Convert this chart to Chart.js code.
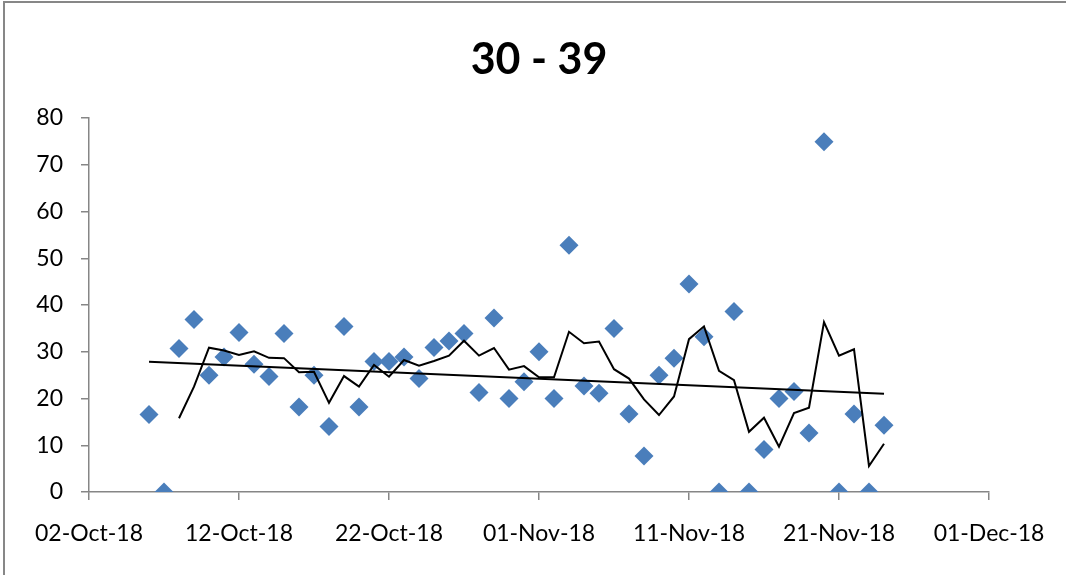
<!DOCTYPE html>
<html>
<head>
<meta charset="utf-8">
<title>30 - 39</title>
<script src="https://cdn.jsdelivr.net/npm/chart.js@4.4.1/dist/chart.umd.min.js"></script>
<style>
  html, body { margin: 0; padding: 0; background: #fff; }
  #wrap { position: relative; width: 1066px; height: 575px; overflow: hidden; }
  #frame {
    position: absolute; left: 3px; top: 1px; width: 1200px; height: 700px;
    border: 2px solid #878787; box-sizing: border-box; pointer-events: none;
  }
</style>
</head>
<body>
<div id="wrap">
  <canvas id="chart" width="1066" height="575"></canvas>
  <div id="frame"></div>
</div>
<script>
// ---------- datos ----------
const START_DATE = '2018-10-02';
const TITLE = '30 - 39';

const dates = [
  '2018-10-06', '2018-10-07', '2018-10-08', '2018-10-09', '2018-10-10',
  '2018-10-11', '2018-10-12', '2018-10-13', '2018-10-14', '2018-10-15',
  '2018-10-16', '2018-10-17', '2018-10-18', '2018-10-19', '2018-10-20',
  '2018-10-21', '2018-10-22', '2018-10-23', '2018-10-24', '2018-10-25',
  '2018-10-26', '2018-10-27', '2018-10-28', '2018-10-29', '2018-10-30',
  '2018-10-31', '2018-11-01', '2018-11-02', '2018-11-03', '2018-11-04',
  '2018-11-05', '2018-11-06', '2018-11-07', '2018-11-08', '2018-11-09',
  '2018-11-10', '2018-11-11', '2018-11-12', '2018-11-13', '2018-11-14',
  '2018-11-15', '2018-11-16', '2018-11-17', '2018-11-18', '2018-11-19',
  '2018-11-20', '2018-11-21', '2018-11-22', '2018-11-23', '2018-11-24'
];

const values = [
  16.6, 0, 30.7, 36.9, 25.0, 28.9, 34.1, 27.3, 24.7, 33.9,
  18.2, 25.0, 14.0, 35.4, 18.2, 27.9, 27.9, 28.9, 24.3, 30.9,
  32.3, 33.9, 21.3, 37.2, 20.0, 23.6, 30.0, 20.0, 52.8, 22.7,
  21.1, 35.0, 16.7, 7.7, 25.0, 28.6, 44.5, 33.2, 0, 38.6,
  0, 9.1, 20.0, 21.5, 12.6, 74.9, 0, 16.7, 0, 14.3
];

const xTickLabels = ['02-Oct-18', '12-Oct-18', '22-Oct-18', '01-Nov-18', '11-Nov-18', '21-Nov-18', '01-Dec-18'];

const MA_PERIOD = 3; // media movil de Excel (3 periodos)

// ---------- helpers ----------
const DAY = 86400000;
const dayOf = (d) => (Date.parse(d) - Date.parse(START_DATE)) / DAY;

const points = dates.map((d, i) => ({ x: dayOf(d), y: values[i] }));

// media movil (como la linea de tendencia de Excel)
const movingAvg = [];
for (let i = MA_PERIOD - 1; i < points.length; i++) {
  let s = 0;
  for (let k = 0; k < MA_PERIOD; k++) s += points[i - k].y;
  movingAvg.push({ x: points[i].x, y: s / MA_PERIOD });
}

// tendencia lineal (minimos cuadrados)
const n = points.length;
const mx = points.reduce((a, p) => a + p.x, 0) / n;
const my = points.reduce((a, p) => a + p.y, 0) / n;
let sxy = 0, sxx = 0;
points.forEach(p => { sxy += (p.x - mx) * (p.y - my); sxx += (p.x - mx) ** 2; });
const slope = sxy / sxx;
const icpt = my - slope * mx;
const firstX = points[0].x, lastX = points[n - 1].x;
const trend = [
  { x: firstX, y: icpt + slope * firstX },
  { x: lastX, y: icpt + slope * lastX }
];

// ---------- grafico ----------
const AXIS = '#868686';
const FONT = 'Lato';

// titulo centrado sobre el area del grafico (como Excel)
const plotTitle = {
  id: 'plotTitle',
  afterDraw(chart) {
    const { ctx, chartArea } = chart;
    ctx.save();
    ctx.font = `bold 43px ${FONT}`;
    ctx.fillStyle = '#000';
    ctx.textAlign = 'center';
    ctx.textBaseline = 'middle';
    ctx.fillText(TITLE, (chartArea.left + chartArea.right) / 2, 60);
    ctx.restore();
  }
};

new Chart(document.getElementById('chart').getContext('2d'), {
  type: 'scatter',
  data: {
    datasets: [
      {
        label: 'Media movil',
        data: movingAvg,
        showLine: true,
        borderColor: '#000',
        borderWidth: 2,
        pointRadius: 0,
        tension: 0,
        order: 1
      },
      {
        label: 'Lineal',
        data: trend,
        showLine: true,
        borderColor: '#000',
        borderWidth: 2,
        pointRadius: 0,
        order: 2
      },
      {
        label: TITLE,
        data: points,
        pointStyle: 'rectRot',
        pointRadius: 9.5,
        backgroundColor: '#4A7EBB',
        borderWidth: 0,
        order: 3
      }
    ]
  },
  plugins: [plotTitle],
  options: {
    responsive: false,
    animation: false,
    events: [],
    layout: { padding: { top: 118, right: 77, bottom: 0, left: 0 } },
    plugins: {
      legend: { display: false },
      tooltip: { enabled: false },
      title: { display: false }
    },
    scales: {
      x: {
        type: 'linear',
        min: 0,
        max: 60,
        afterFit: (s) => { s.height = 83; },
        afterBuildTicks: (s) => { s.ticks = xTickLabels.map((_, i) => ({ value: i * 10 })); },
        ticks: {
          stepSize: 10,
          padding: 20,
          color: '#000',
          font: { family: FONT, size: 23 },
          maxRotation: 0,
          callback: (v) => xTickLabels[Math.round(v / 10)]
        },
        grid: { drawOnChartArea: false, drawTicks: true, tickLength: 8, color: AXIS, lineWidth: 1.5 },
        border: { color: AXIS, width: 1.5 }
      },
      y: {
        min: 0,
        max: 80,
        afterFit: (s) => { s.width = 89; },
        ticks: {
          stepSize: 10,
          padding: 18,
          color: '#000',
          font: { family: FONT, size: 23 }
        },
        grid: { drawOnChartArea: false, drawTicks: true, tickLength: 8, color: AXIS, lineWidth: 1.5 },
        border: { color: AXIS, width: 1.5 }
      }
    }
  }
});
</script>
</body>
</html>
